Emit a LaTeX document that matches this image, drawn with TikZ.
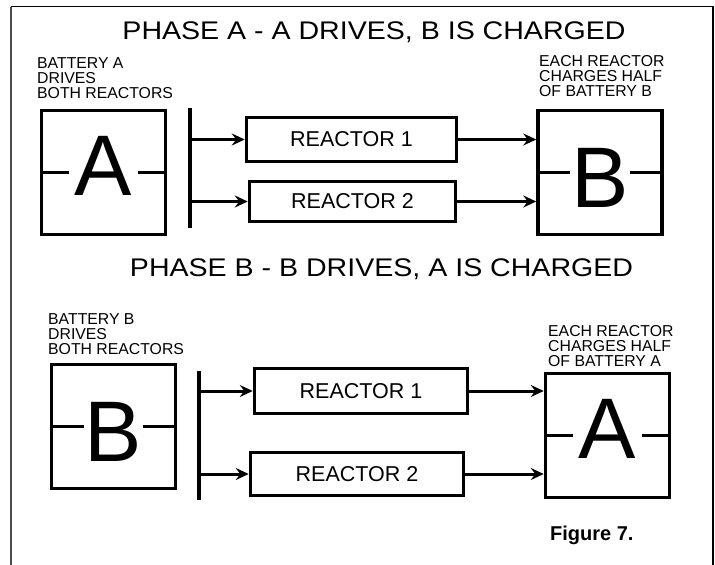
\documentclass[tikz,border=0pt]{standalone}
\usepackage{fontspec}
\setmainfont{Liberation Sans}
\newfontfamily\widefont[FakeStretch=1.12]{Liberation Sans}
\usetikzlibrary{
  arrows.meta,
  positioning
}
\tikzset{
  battery/.style={draw, line width=3.5pt, minimum width=124pt, minimum height=124pt, inner sep=0pt},
  letterA/.style={font=\fontsize{86}{86}\selectfont, inner xsep=6pt, inner ysep=0pt, yshift=7pt},
  letterB/.style={font=\fontsize{86}{86}\selectfont, inner xsep=1pt, inner ysep=0pt, yshift=-5pt},
  reactor/.style={draw, line width=3.5pt, inner sep=0pt, font=\fontsize{21.5}{24}\selectfont},
  feed/.style={-{Stealth[length=13pt, width=12pt, inset=4.5pt]}, line width=3pt},
  busline/.style={line width=3.5pt},
  tick/.style={line width=2.5pt},
  tag/.style={font=\fontsize{15.8}{15.3}\selectfont, align=left, anchor=north west, inner sep=0pt},
  heading/.style={font=\widefont\fontsize{25.5}{28}\selectfont, anchor=base, inner sep=0pt},
  caption/.style={font=\bfseries\fontsize{20}{22}\selectfont, anchor=base west, inner sep=0pt},
  frame/.style={line width=1.2pt},
  frameleft/.style={line width=2pt, black!70}
}

\begin{document}
\begin{tikzpicture}[x=1pt, y=-1pt]
  \useasboundingbox (0,0) rectangle (715,565);
  \draw[frameleft] (11,565) -- (11,6.5);
  \draw[frame] (11,6.5) -- (713,6.5) -- (713,565);

  % phase A
  \node[heading] (headA) at (374,39) {PHASE A - A DRIVES, B IS CHARGED};
  \node[battery] (batA) at (103.5,172.5) {};
  \node[letterA] (letA) at (batA.center) {A};
  \draw[tick] (batA.west) -- (letA.west |- batA.west);
  \draw[tick] (letA.east |- batA.east) -- (batA.east);
  \node[tag] (tagA) at (37,57) {BATTERY A\\DRIVES\\BOTH REACTORS};
  \coordinate (busAtop) at (190,108);
  \coordinate (busAbot) at (190,228);
  \draw[busline] (busAtop) -- (busAbot);
  \node[reactor, minimum width=210pt, minimum height=44pt] (reacA1) at (351.5,139.5) {REACTOR 1};
  \node[reactor, minimum width=206pt, minimum height=40pt] (reacA2) at (352.5,201.5) {REACTOR 2};
  \node[battery] (batB) at (600,172.5) {};
  \node[letterB] (letB) at (batB.center) {B};
  \draw[tick] (batB.west) -- (letB.west |- batB.west);
  \draw[tick] (letB.east |- batB.east) -- (batB.east);
  \node[tag] (tagB) at (539,55) {EACH REACTOR\\CHARGES HALF\\OF BATTERY B};
  \draw[feed] (busAtop |- reacA1.west) -- (reacA1.west);
  \draw[feed] (busAtop |- reacA2.west) -- (reacA2.west);
  \draw[feed] (reacA1.east) -- (reacA1.east -| batB.west);
  \draw[feed] (reacA2.east) -- (reacA2.east -| batB.west);

  % phase B
  \node[heading] (headB) at (381.5,276.5) {PHASE B - B DRIVES, A IS CHARGED};
  \node[battery] (batBb) at (113.5,426.5) {};
  \node[letterB] (letBb) at (batBb.center) {B};
  \draw[tick] (batBb.west) -- (letBb.west |- batBb.west);
  \draw[tick] (letBb.east |- batBb.east) -- (batBb.east);
  \node[tag] (tagBb) at (48,313) {BATTERY B\\DRIVES\\BOTH REACTORS};
  \coordinate (busBtop) at (199,371);
  \coordinate (busBbot) at (199,500);
  \draw[busline] (busBtop) -- (busBbot);
  \node[reactor, minimum width=213pt, minimum height=45pt] (reacB1) at (361,391) {REACTOR 1};
  \node[reactor, minimum width=213pt, minimum height=43pt] (reacB2) at (357,474) {REACTOR 2};
  \node[battery] (batAb) at (607.5,435.5) {};
  \node[letterA] (letAb) at (batAb.center) {A};
  \draw[tick] (batAb.west) -- (letAb.west |- batAb.west);
  \draw[tick] (letAb.east |- batAb.east) -- (batAb.east);
  \node[tag] (tagAb) at (548,325) {EACH REACTOR\\CHARGES HALF\\OF BATTERY A};
  \draw[feed] (busBtop |- reacB1.west) -- (reacB1.west);
  \draw[feed] (busBtop |- reacB2.west) -- (reacB2.west);
  \draw[feed] (reacB1.east) -- (reacB1.east -| batAb.west);
  \draw[feed] (reacB2.east) -- (reacB2.east -| batAb.west);

  \node[caption] (fig) at (550,540) {Figure 7.};
\end{tikzpicture}
\end{document}
